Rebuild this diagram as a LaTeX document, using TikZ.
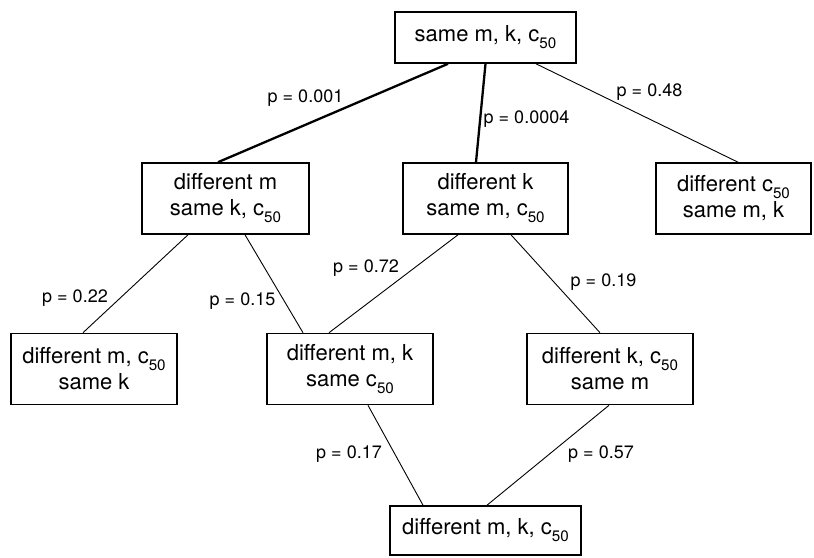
\documentclass[tikz,border=0pt]{standalone}
\usepackage{fontspec}
\setmainfont{TeX Gyre Heros}
\usetikzlibrary{positioning}
\newcommand\lowsub[1]{\raisebox{-0.6ex}{\fontsize{7.6}{8}\selectfont #1}}

\begin{document}
\begin{tikzpicture}[x=0.5pt, y=-0.5pt,
  every node/.style={font=\fontsize{11}{13}\selectfont},
  state/.style={draw, line width=0.8pt, minimum width=83pt, minimum height=35.5pt,
                align=center, inner sep=0pt},
  plabel/.style={font=\fontsize{9}{11}\selectfont, inner sep=0pt},
  link/.style={line width=0.45pt},
  strong/.style={line width=1.15pt},
]
\useasboundingbox (0,0) rectangle (814,557);
% levels of the model tree
\node[state, minimum width=90.5pt, minimum height=25.5pt] (same) at (485.5,37.5)
     {same m, k, c\lowsub{50}};
\node[state, minimum width=83.5pt] (dm) at (225.5,198.5) {different m\\same k, c\lowsub{50}};
\node[state, minimum width=82.5pt] (dk) at (485.5,198.5) {different k\\same m, c\lowsub{50}};
\node[state, minimum width=77.5pt] (dc) at (733.5,198.5) {different c\lowsub{50}\\same m, k};
\node[state] (dmc) at (94,369) {different m, c\lowsub{50}\\same k};
\node[state] (dmk) at (350,369) {different m, k\\same c\lowsub{50}};
\node[state] (dkc) at (610,369) {different k, c\lowsub{50}\\same m};
\node[state, minimum width=95.5pt, minimum height=24.5pt] (dall) at (485.5,530.5)
     {different m, k, c\lowsub{50}};
% p-values
\node[plabel] (p1) at (305.5,98)  {p = 0.001};
\node[plabel] (p2) at (526.5,119) {p = 0.0004};
\node[plabel] (p3) at (649.5,92)  {p = 0.48};
\node[plabel] (p4) at (75,298)    {p = 0.22};
\node[plabel] (p5) at (242.5,301) {p = 0.15};
\node[plabel] (p6) at (366,268)   {p = 0.72};
\node[plabel] (p7) at (603.5,282) {p = 0.19};
\node[plabel] (p8) at (349,454)   {p = 0.17};
\node[plabel] (p9) at (601,454)   {p = 0.57};
% tests
\draw[strong] ([xshift=-18.75pt]same.south) -- ([xshift=-3.75pt]dm.north);
\draw[strong] (same.south) -- ([xshift=-4.75pt]dk.north);
\draw[link] ([xshift=25.25pt]same.south) -- ([xshift=2.25pt]dc.north);
\draw[link] ([xshift=-18.75pt]dm.south) -- ([xshift=-5.5pt]dmc.north);
\draw[link] ([xshift=9.75pt]dm.south) -- ([xshift=-23.5pt]dmk.north);
\draw[link] ([xshift=-13.75pt]dk.south) -- ([xshift=-10.5pt]dmk.north);
\draw[link] ([xshift=12.75pt]dk.south) -- ([xshift=-5pt]dkc.north);
\draw[link] ([xshift=9pt]dmk.south) -- ([xshift=-31.25pt]dall.north);
\draw[link] ([xshift=-0.5pt]dkc.south) -- ([xshift=0.75pt]dall.north);
\end{tikzpicture}
\end{document}
